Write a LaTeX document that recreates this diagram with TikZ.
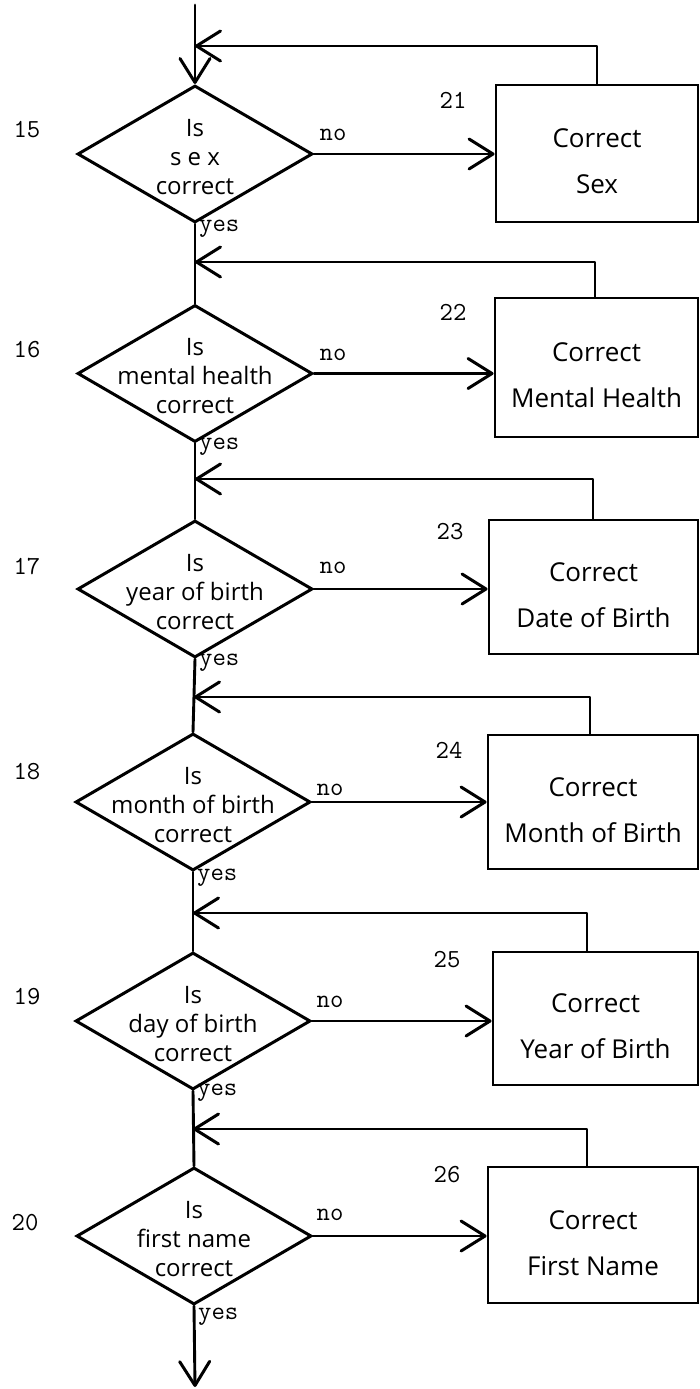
\documentclass[tikz,border=0pt]{standalone}
\usepackage{fontspec}
\newfontfamily\handfont{Open Sans}
\usetikzlibrary{arrows.meta,shapes.geometric}

\tikzset{
  flow/.style={line width=2.9pt, line cap=round, line join=round},
  barb/.style={-{Straight Barb[length=24pt,width=30pt,line width=3pt,round]}},
  decision/.style={diamond, draw, line width=3pt, minimum width=235pt,
                   minimum height=137pt, inner sep=0pt},
  action/.style={rectangle, draw, line width=2.9pt, inner sep=0pt},
  handtext/.style={font=\handfont\fontsize{24}{29}\selectfont, align=center, inner sep=0pt},
  boxtext/.style={font=\handfont\fontsize{26}{46}\selectfont, align=center, inner sep=0pt},
  typed/.style={font=\ttfamily\fontsize{26}{26}\selectfont, inner sep=0pt},
  yeslabel/.style={typed, anchor=west},
}

\begin{document}
\begin{tikzpicture}[x=1pt,y=-1pt]
\useasboundingbox (0,0) rectangle (699,1389);

% ---- decisions ----
\node[decision] (d15) at (195,154)   {};
\node[decision] (d16) at (195,373.5) {};
\node[decision] (d17) at (195,589)   {};
\node[decision] (d18) at (193,802)   {};
\node[decision] (d19) at (193,1021)  {};
\node[decision] (d20) at (194,1236)  {};

\node[handtext] (q15) at ([yshift=-3pt]d15.center) {Is\\s e x\\correct};
\node[handtext] (q16) at ([yshift=-3pt]d16.center) {Is\\mental health\\correct};
\node[handtext] (q17) at ([yshift=-3pt]d17.center) {Is\\year of birth\\correct};
\node[handtext] (q18) at ([yshift=-3pt]d18.center) {Is\\month of birth\\correct};
\node[handtext] (q19) at ([yshift=-3pt]d19.center) {Is\\day of birth\\correct};
\node[handtext] (q20) at ([yshift=-3pt]d20.center) {Is\\first name\\correct};

% ---- correction boxes ----
\node[action, minimum width=202pt, minimum height=137pt] (b21) at (597,153.5)  {};
\node[action, minimum width=203pt, minimum height=139pt] (b22) at (596.5,367.5) {};
\node[action, minimum width=209pt, minimum height=134pt] (b23) at (593.5,587)  {};
\node[action, minimum width=210pt, minimum height=134pt] (b24) at (593,802)    {};
\node[action, minimum width=205pt, minimum height=133pt] (b25) at (595.5,1018.5) {};
\node[action, minimum width=210pt, minimum height=136pt] (b26) at (593,1235)   {};

\node[boxtext] (c21) at ([yshift=-8pt]b21.center) {Correct\\Sex};
\node[boxtext] (c22) at ([yshift=-8pt]b22.center) {Correct\\Mental Health};
\node[boxtext] (c23) at ([yshift=-8pt]b23.center) {Correct\\Date of Birth};
\node[boxtext] (c24) at ([yshift=-8pt]b24.center) {Correct\\Month of Birth};
\node[boxtext] (c25) at ([yshift=-8pt]b25.center) {Correct\\Year of Birth};
\node[boxtext] (c26) at ([yshift=-8pt]b26.center) {Correct\\First Name};

% ---- step numbers ----
\node[typed] (s15) at (27,130)  {15};
\node[typed] (s16) at (27,350)  {16};
\node[typed] (s17) at (27,567)  {17};
\node[typed] (s18) at (27,772)  {18};
\node[typed] (s19) at (27,997)  {19};
\node[typed] (s20) at (25,1223) {20};
\node[typed] (s21) at (453,100) {21};
\node[typed] (s22) at (453,312) {22};
\node[typed] (s23) at (450,532) {23};
\node[typed] (s24) at (449,750) {24};
\node[typed] (s25) at (447,960) {25};
\node[typed] (s26) at (447,1175) {26};

% ---- junction points on the main line ----
\coordinate (start) at (195,5);
\coordinate (j1) at (195,46);
\coordinate (j2) at (195,262);
\coordinate (j3) at (195,479);
\coordinate (j4) at (194,697);
\coordinate (j5) at (193,913);
\coordinate (j6) at (193,1129);
\coordinate (exit) at (195,1387);

% ---- main line ----
\draw[flow, barb] (start) -- (d15.north);
\draw[flow] (d15.south) -- (d16.north);
\draw[flow] (d16.south) -- (d17.north);
\draw[flow] (d17.south) -- (d18.north);
\draw[flow] (d18.south) -- (d19.north);
\draw[flow] (d19.south) -- (d20.north);
\draw[flow, barb] (d20.south) -- (exit);

% ---- "no" branches ----
\draw[flow, barb] (d15.east) -- (d15.east -| b21.west);
\draw[flow, barb] (d16.east) -- (d16.east -| b22.west);
\draw[flow, barb] (d17.east) -- (d17.east -| b23.west);
\draw[flow, barb] (d18.east) -- (d18.east -| b24.west);
\draw[flow, barb] (d19.east) -- (d19.east -| b25.west);
\draw[flow, barb] (d20.east) -- (d20.east -| b26.west);

\node[typed] (n15) at (333,135)  {no};
\node[typed] (n16) at (333,355)  {no};
\node[typed] (n17) at (333,568)  {no};
\node[typed] (n18) at (330,790)  {no};
\node[typed] (n19) at (330,1002) {no};
\node[typed] (n20) at (330,1215) {no};

% ---- "yes" labels ----
\node[yeslabel] (y15) at (199,229)  {yes};
\node[yeslabel] (y16) at (199,447)  {yes};
\node[yeslabel] (y17) at (199,663)  {yes};
\node[yeslabel] (y18) at (197,878)  {yes};
\node[yeslabel] (y19) at (197,1093) {yes};
\node[yeslabel] (y20) at (198,1317) {yes};

% ---- return paths back to the main line ----
\draw[flow, barb] (b21.north) |- (j1);
\draw[flow, barb] ([xshift=-1.5pt]b22.north) |- (j2);
\draw[flow, barb] ([xshift=-0.5pt]b23.north) |- (j3);
\draw[flow, barb] ([xshift=-3pt]b24.north) |- (j4);
\draw[flow, barb] ([xshift=-8.5pt]b25.north) |- (j5);
\draw[flow, barb] ([xshift=-6pt]b26.north) |- (j6);
\end{tikzpicture}
\end{document}
